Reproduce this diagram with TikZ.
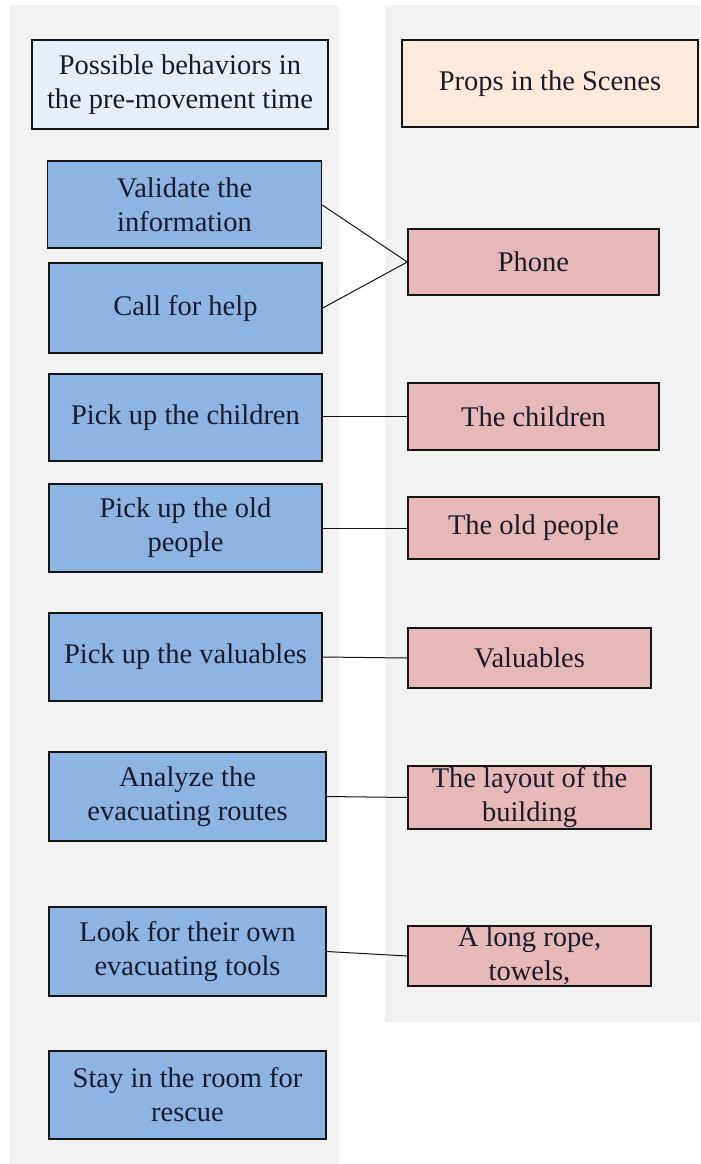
\documentclass[tikz,border=0pt]{standalone}
\usepackage{fontspec}
\setmainfont{Liberation Serif}
\definecolor{panelgray}{RGB}{242,242,242}
\definecolor{headblue}{RGB}{232,238,248}
\definecolor{headpeach}{RGB}{253,234,218}
\definecolor{boxblue}{RGB}{141,180,226}
\definecolor{boxpink}{RGB}{230,185,184}
\definecolor{txt}{RGB}{26,26,44}
\definecolor{edge}{RGB}{20,20,20}
\tikzset{
  basebox/.style={draw=edge, line width=1.5pt, rectangle, align=center, inner sep=0pt,
    text=txt, font=\fontsize{28.5}{34}\selectfont},
  headL/.style={basebox, fill=headblue},
  headR/.style={basebox, fill=headpeach},
  bluebox/.style={basebox, fill=boxblue},
  pinkbox/.style={basebox, fill=boxpink},
  link/.style={draw=edge, line width=1pt},
  panel/.style={fill=panelgray, draw=none}
}
\begin{document}
\begin{tikzpicture}[x=1pt,y=-1pt]
\useasboundingbox (0,0) rectangle (701,1164);
\fill[white] (0,0) rectangle (701,1164);
\path[panel] (10,5) rectangle (339,1164);
\path[panel] (385,5) rectangle (700,1022);

\node[headL, minimum width=296pt, minimum height=89pt] (hl) at (180,84.5) {Possible behaviors in\\the pre-movement time};
\node[headR, minimum width=296pt, minimum height=87pt] (hr) at (550,83.5) {Props in the Scenes};

\node[bluebox, minimum width=274pt, minimum height=87pt] (b1) at (184.5,204.5) {Validate the\\information};
\node[bluebox, minimum width=273pt, minimum height=90pt] (b2) at (185.5,308) {Call for help};
\node[bluebox, minimum width=273pt, minimum height=87pt] (b3) at (185.5,417.5) {Pick up the children};
\node[bluebox, minimum width=273pt, minimum height=88pt] (b4) at (185.5,528) {Pick up the old\\people};
\node[bluebox, minimum width=273pt, minimum height=88pt] (b5) at (185.5,657) {Pick up the valuables};
\node[bluebox, minimum width=277pt, minimum height=89pt] (b6) at (187.5,796.5) {Analyze the\\evacuating routes};
\node[bluebox, minimum width=277pt, minimum height=89pt] (b7) at (187.5,951.5) {Look for their own\\evacuating tools};
\node[bluebox, minimum width=277pt, minimum height=88pt] (b8) at (187.5,1095) {Stay in the room for\\rescue};

\node[pinkbox, minimum width=251pt, minimum height=66pt] (p1) at (533.5,262) {Phone};
\node[pinkbox, minimum width=251pt, minimum height=67pt] (p2) at (533.5,416.5) {The children};
\node[pinkbox, minimum width=251pt, minimum height=62pt] (p3) at (533.5,528) {The old people};
\node[pinkbox, minimum width=243pt, minimum height=60pt] (p4) at (529.5,658) {Valuables};
\node[pinkbox, minimum width=243pt, minimum height=63pt] (p5) at (529.5,797.5) {The layout of the\\building};
\node[pinkbox, minimum width=243pt, minimum height=60pt] (p6) at (529.5,956) {A long rope,\\towels,};

\draw[link] (b1.east) ++(0,0.5) -- (p1.west);
\draw[link] (b2.east) -- (p1.west);
\draw[link] (b3.east |- p2.west) -- (p2.west);
\draw[link] (b4.east) -- (p3.west);
\draw[link] (b5.east) -- (p4.west);
\draw[link] (b6.east) -- (p5.west);
\draw[link] (b7.east) -- (p6.west);
\end{tikzpicture}
\end{document}
